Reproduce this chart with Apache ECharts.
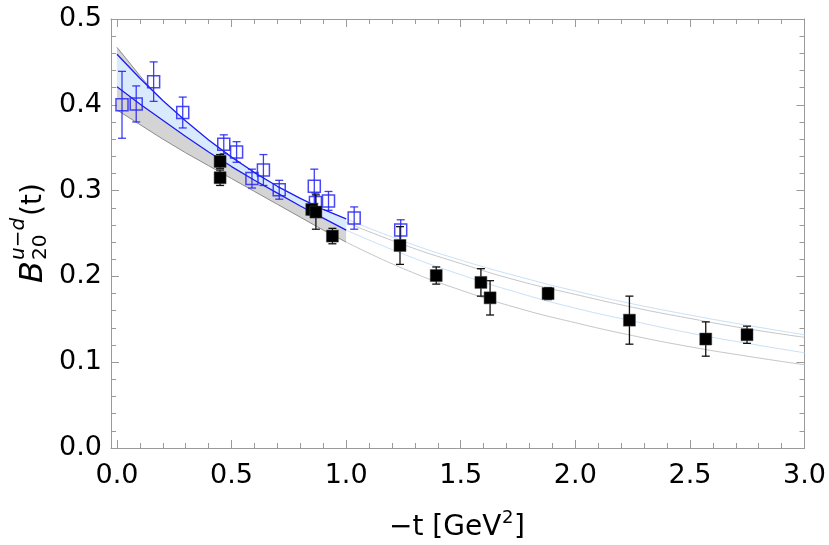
<!DOCTYPE html>
<html>
<head>
<meta charset="utf-8">
<script src="https://cdn.jsdelivr.net/npm/echarts@6/dist/echarts.min.js"></script>
<style>
  html, body { margin: 0; padding: 0; background: #fff; }
  #main { width: 829px; height: 545px; }
</style>
</head>
<body>
<div id="main"></div>
<script>
// lattice points (open blue squares)
var blueT = [0.022, 0.084, 0.160, 0.287, 0.466, 0.522, 0.589, 0.639, 0.708, 0.861, 0.866, 0.923, 1.035, 1.238];
var blueB = [0.400, 0.401, 0.427, 0.391, 0.354, 0.345, 0.314, 0.324, 0.301, 0.305, 0.286, 0.288, 0.268, 0.254];
var blueErr = [0.039, 0.021, 0.023, 0.018, 0.011, 0.012, 0.011, 0.018, 0.011, 0.020, 0.011, 0.011, 0.013, 0.012];

// lattice points (filled black squares)
var blackT = [0.450, 0.450, 0.850, 0.868, 0.940, 1.235, 1.393, 1.588, 1.628, 1.881, 2.236, 2.569, 2.749];
var blackB = [0.334, 0.315, 0.278, 0.275, 0.247, 0.236, 0.201, 0.193, 0.175, 0.180, 0.149, 0.127, 0.132];
var blackErr = [0.008, 0.009, 0.006, 0.020, 0.009, 0.022, 0.010, 0.016, 0.020, 0.007, 0.028, 0.020, 0.010];

// fit bands, 0..1
var bandT = [0, 0.1, 0.2, 0.3, 0.4, 0.5, 0.6, 0.7, 0.8, 0.9, 1.0];
var grayUp = [0.467, 0.434, 0.403, 0.377, 0.354, 0.334, 0.316, 0.300, 0.286, 0.274, 0.263];
var grayLo = [0.394, 0.377, 0.360, 0.344, 0.329, 0.314, 0.299, 0.284, 0.269, 0.254, 0.240];
var blueUp = [0.459, 0.431, 0.405, 0.381, 0.359, 0.339, 0.321, 0.305, 0.291, 0.278, 0.267];
var blueLo = [0.421, 0.401, 0.382, 0.363, 0.345, 0.328, 0.312, 0.297, 0.282, 0.268, 0.254];

// extrapolation, 1..3
var extT = [1.0, 1.25, 1.5, 1.75, 2.0, 2.25, 2.5, 2.75, 3.0];
var grayUpExt = [0.263, 0.237, 0.215, 0.195, 0.179, 0.164, 0.151, 0.139, 0.129];
var grayLoExt = [0.240, 0.209, 0.184, 0.163, 0.146, 0.131, 0.118, 0.107, 0.097];
var blueUpExt = [0.267, 0.241, 0.219, 0.200, 0.183, 0.168, 0.155, 0.143, 0.132];
var blueLoExt = [0.254, 0.226, 0.202, 0.181, 0.163, 0.148, 0.134, 0.122, 0.111];

var xMajor = [0, 0.5, 1.0, 1.5, 2.0, 2.5, 3.0];
var xMinor = [0.1, 0.2, 0.3, 0.4, 0.6, 0.7, 0.8, 0.9, 1.1, 1.2, 1.3, 1.4, 1.6, 1.7, 1.8, 1.9,
              2.1, 2.2, 2.3, 2.4, 2.6, 2.7, 2.8, 2.9];

var FONT = 'DejaVu Sans';
var FRAME = '#9a9a9a';

function pairs(xs, ys) {
  return xs.map(function (x, i) { return [x, ys[i]]; });
}

function errData(xs, ys, es) {
  return xs.map(function (x, i) { return [x, ys[i], ys[i] - es[i], ys[i] + es[i]]; });
}

function bandSeries(up, lo, fill, z) {
  return {
    type: 'custom',
    z: z,
    silent: true,
    data: [[0, 0]],
    renderItem: function (params, api) {
      var pts = [];
      for (var i = 0; i < bandT.length; i++) pts.push(api.coord([bandT[i], up[i]]));
      for (var j = bandT.length - 1; j >= 0; j--) pts.push(api.coord([bandT[j], lo[j]]));
      return { type: 'polygon', shape: { points: pts }, style: { fill: fill } };
    }
  };
}

function lineSeries(xs, ys, color, width, z, smooth) {
  return {
    type: 'line',
    z: z,
    silent: true,
    data: pairs(xs, ys),
    showSymbol: false,
    smooth: smooth,
    lineStyle: { color: color, width: width }
  };
}

function errSeries(xs, ys, es, color, z) {
  return {
    type: 'custom',
    z: z,
    silent: true,
    data: errData(xs, ys, es),
    renderItem: function (params, api) {
      var lo = api.coord([api.value(0), api.value(2)]);
      var hi = api.coord([api.value(0), api.value(3)]);
      var w = 4;
      var st = { stroke: color, lineWidth: 1.3 };
      return {
        type: 'group',
        children: [
          { type: 'line', shape: { x1: lo[0], y1: lo[1], x2: hi[0], y2: hi[1] }, style: st },
          { type: 'line', shape: { x1: lo[0] - w, y1: lo[1], x2: lo[0] + w, y2: lo[1] }, style: st },
          { type: 'line', shape: { x1: hi[0] - w, y1: hi[1], x2: hi[0] + w, y2: hi[1] }, style: st }
        ]
      };
    }
  };
}

function xAxisDef(pos, values, len, labels, line) {
  return {
    type: 'value',
    position: pos,
    min: -0.026,
    max: 3.0,
    splitLine: { show: false },
    axisLine: { show: line, onZero: false, lineStyle: { color: FRAME, width: 1 } },
    axisTick: { show: true, inside: true, length: len, customValues: values, lineStyle: { color: FRAME } },
    axisLabel: {
      show: labels,
      customValues: values,
      margin: 14,
      color: '#000',
      fontFamily: FONT,
      fontSize: 27,
      formatter: function (v) { return v.toFixed(1); }
    }
  };
}

function yAxisDef(pos, labels) {
  return {
    type: 'value',
    position: pos,
    min: 0,
    max: 0.5,
    interval: 0.1,
    splitLine: { show: false },
    axisLine: { show: true, onZero: false, lineStyle: { color: FRAME, width: 1 } },
    axisTick: { show: true, inside: true, length: 8, lineStyle: { color: FRAME } },
    minorTick: { show: true, splitNumber: 5, length: 5, lineStyle: { color: FRAME } },
    axisLabel: {
      show: labels,
      margin: 9,
      color: '#000',
      fontFamily: FONT,
      fontSize: 27,
      formatter: function (v) { return v.toFixed(1); }
    }
  };
}

var chart = echarts.init(document.getElementById('main'));

var option = {
  animation: false,
  backgroundColor: '#ffffff',
  grid: { left: 111, right: 23, top: 19, bottom: 97 },
  xAxis: [
    xAxisDef('bottom', xMajor, 8, true, true),
    xAxisDef('bottom', xMinor, 5, false, false),
    xAxisDef('top', xMajor, 8, false, true),
    xAxisDef('top', xMinor, 5, false, false)
  ],
  yAxis: [
    yAxisDef('left', true),
    yAxisDef('right', false)
  ],
  graphic: [
    {
      type: 'group',
      x: 34,
      y: 283,
      rotation: Math.PI / 2,
      silent: true,
      children: [
        { type: 'text', x: 0, y: 0, style: { text: 'B', fontFamily: FONT, fontStyle: 'italic', fontSize: 32, fill: '#000', verticalAlign: 'middle' } },
        { type: 'text', x: 23, y: -15, style: { text: 'u\u2212d', fontFamily: FONT, fontStyle: 'italic', fontSize: 20, fill: '#000', verticalAlign: 'middle' } },
        { type: 'text', x: 23, y: 7, style: { text: '20', fontFamily: FONT, fontSize: 20, fill: '#000', verticalAlign: 'middle' } },
        { type: 'text', x: 67, y: 0, style: { text: '(t)', fontFamily: FONT, fontSize: 28, fill: '#000', verticalAlign: 'middle' } }
      ]
    },
    {
      type: 'group',
      x: 389,
      y: 528,
      silent: true,
      children: [
        { type: 'text', x: 0, y: 0, style: { text: '\u2212t [GeV', fontFamily: FONT, fontSize: 28, fill: '#000', verticalAlign: 'middle' } },
        { type: 'text', x: 113, y: -10, style: { text: '2', fontFamily: FONT, fontSize: 18, fill: '#000', verticalAlign: 'middle' } },
        { type: 'text', x: 125, y: 0, style: { text: ']', fontFamily: FONT, fontSize: 28, fill: '#000', verticalAlign: 'middle' } }
      ]
    }
  ],
  series: [
    lineSeries(extT, grayUpExt, '#c6c6c6', 1, 1, true),
    lineSeries(extT, grayLoExt, '#c6c6c6', 1, 1, true),
    lineSeries(extT, blueUpExt, '#c8e1f7', 1, 1, true),
    lineSeries(extT, blueLoExt, '#c8e1f7', 1, 1, true),
    bandSeries(grayUp, grayLo, '#d4d4d4', 2),
    lineSeries(bandT, grayUp, '#8c8c8c', 1, 3, false),
    lineSeries(bandT, grayLo, '#8c8c8c', 1, 3, false),
    bandSeries(blueUp, blueLo, '#d8eafc', 4),
    lineSeries(bandT, blueUp, '#1c1cf5', 1.3, 5, false),
    lineSeries(bandT, blueLo, '#1c1cf5', 1.3, 5, false),
    errSeries(blueT, blueB, blueErr, 'rgba(30,30,240,0.85)', 6),
    {
      type: 'scatter',
      z: 7,
      silent: true,
      data: pairs(blueT, blueB),
      symbol: 'rect',
      symbolSize: 12,
      itemStyle: { opacity: 1, color: 'rgba(255,255,255,0)', borderColor: 'rgba(40,40,245,0.85)', borderWidth: 1.5 }
    },
    errSeries(blackT, blackB, blackErr, '#111', 8),
    {
      type: 'scatter',
      z: 9,
      silent: true,
      data: pairs(blackT, blackB),
      symbol: 'rect',
      symbolSize: 12,
      itemStyle: { opacity: 1, color: '#000', borderColor: '#444', borderWidth: 0.5 }
    }
  ]
};

chart.setOption(option);
</script>
</body>
</html>
